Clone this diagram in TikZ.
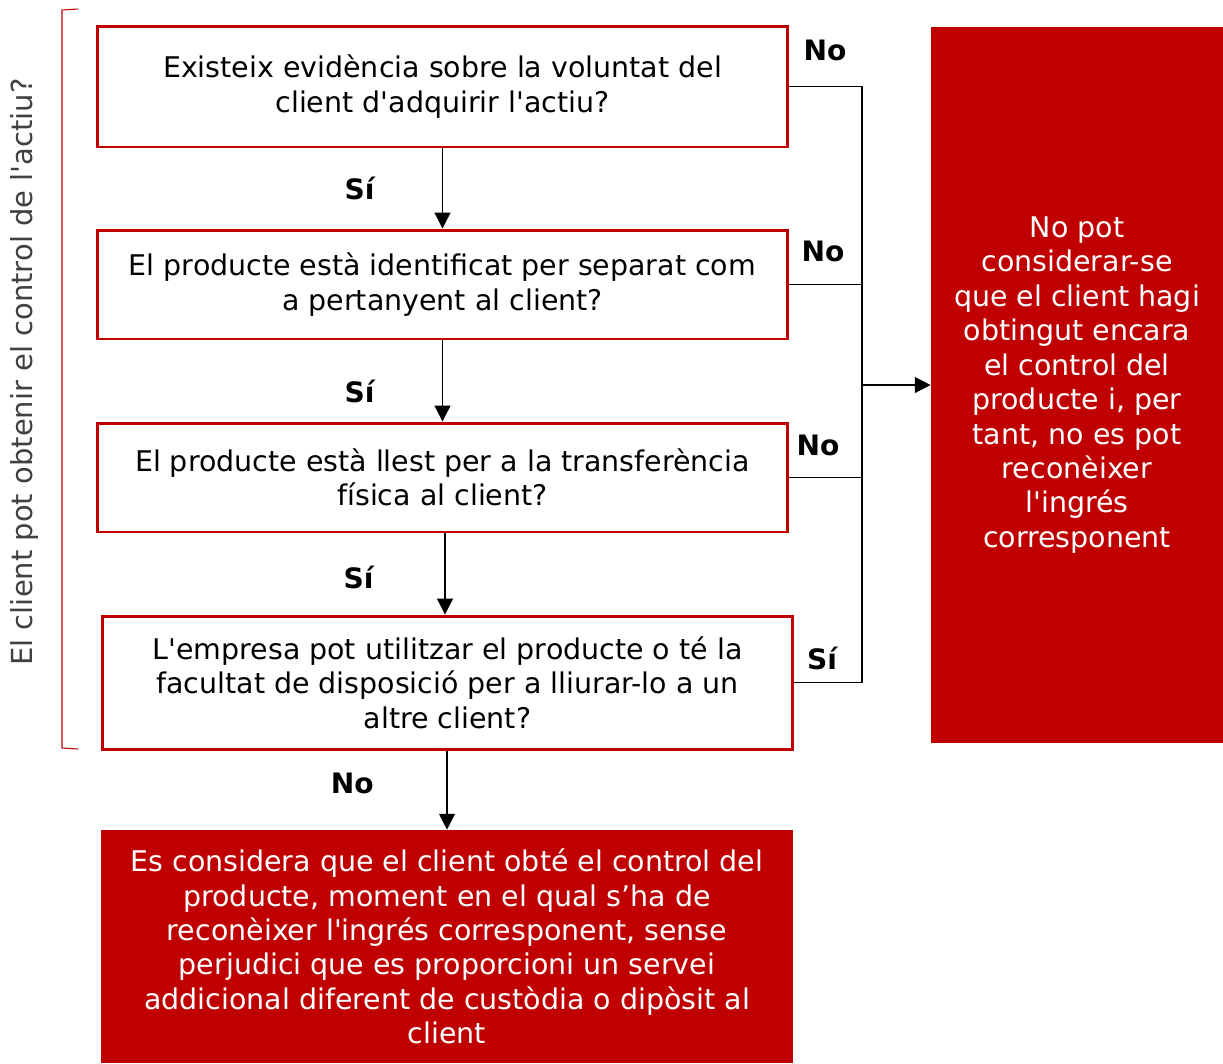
\documentclass[tikz,border=0pt]{standalone}
\usepackage{fontspec}
\setmainfont{DejaVu Sans}[Ligatures=TeXOff]
\definecolor{vermell}{RGB}{192,0,0}
\definecolor{gris}{RGB}{64,64,64}
\tikzset{
  pregunta/.style={draw=vermell, line width=1.7pt, align=center, inner sep=0pt,
    font=\fontsize{16.2}{19.6}\selectfont},
  resultat/.style={fill=vermell, text=white, align=center, inner sep=0pt,
    font=\fontsize{16.2}{19.6}\selectfont},
  etiq/.style={font=\fontsize{16}{18}\selectfont\bfseries},
  fletxa/.style={-{Triangle[length=9pt,width=9pt]}, line width=0.7pt},
  linia/.style={line width=0.7pt}
}
\usetikzlibrary{arrows.meta}
\begin{document}
\begin{tikzpicture}[x=0.02cm, y=-0.02cm]
        \useasboundingbox (0,0) rectangle (1223,1063);
        % preguntes
        \node[pregunta, minimum width=13.82cm, minimum height=2.42cm] (q1) at (442.5,86.5) {Existeix evidència sobre la voluntat del\\client d'adquirir l'actiu?};
        \node[pregunta, minimum width=13.82cm, minimum height=2.18cm] (q2) at (442.5,284.5) {El producte està identificat per separat com\\a pertanyent al client?};
        \node[pregunta, minimum width=13.82cm, minimum height=2.18cm] (q3) at (442.5,477.5) {El producte està llest per a la transferència\\física al client?};
        \node[pregunta, minimum width=13.82cm, minimum height=2.66cm] (q4) at (447.5,682.5) {L'empresa pot utilitzar el producte o té la\\facultat de disposició per a lliurar-lo a un\\altre client?};
        % resultats
        \node[resultat, minimum width=13.84cm, minimum height=4.66cm] (si) at (447,946.5) {Es considera que el client obté el control del\\producte, moment en el qual s’ha de\\reconèixer l'ingrés corresponent, sense\\perjudici que es proporcioni un servei\\addicional diferent de custòdia o dipòsit al\\client};
        \node[resultat, minimum width=5.84cm, minimum height=14.32cm] (no) at (1077,385) {No pot\\considerar-se\\que el client hagi\\obtingut encara\\el control del\\producte i, per\\tant, no es pot\\reconèixer\\l'ingrés\\corresponent};
        % fletxes avall
        \draw[fletxa] (q1.south) -- (q2.north) node[etiq, pos=0.5, left=35pt]{Sí};
        \draw[fletxa] (q2.south) -- (q3.north) node[etiq, pos=0.63, left=35pt]{Sí};
        \draw[fletxa] (q3.south -| 445,0) -- (q4.north -| 445,0) node[etiq, pos=0.54, left=37pt]{Sí};
        \draw[fletxa] (q4.south -| si.north) -- (si.north) node[etiq, pos=0.42, left=38pt]{No};
        % cap a la dreta
        \coordinate (bus) at (862,385);
        \draw[linia] (q1.east) -- (q1.east -| bus) -- (q4.east -| bus) -- (q4.east);
        \draw[linia] (q2.east) -- (q2.east -| bus);
        \draw[linia] (q3.east) -- (q3.east -| bus);
        \draw[fletxa] (bus) -- (no.west);
        \node[etiq] at (825,50) {No};
        \node[etiq] at (823,251) {No};
        \node[etiq] at (818,445) {No};
        \node[etiq] at (822,658) {Sí};
        % clau
        \draw[vermell, line width=0.6pt] (78,9) -- (62,10) -- (62,748) -- (78,749);
        \node[rotate=90, text=gris, font=\fontsize{16.5}{18}\selectfont] (eix) at (25,372) {El client pot obtenir el control de l'actiu?};
\end{tikzpicture}
\end{document}
